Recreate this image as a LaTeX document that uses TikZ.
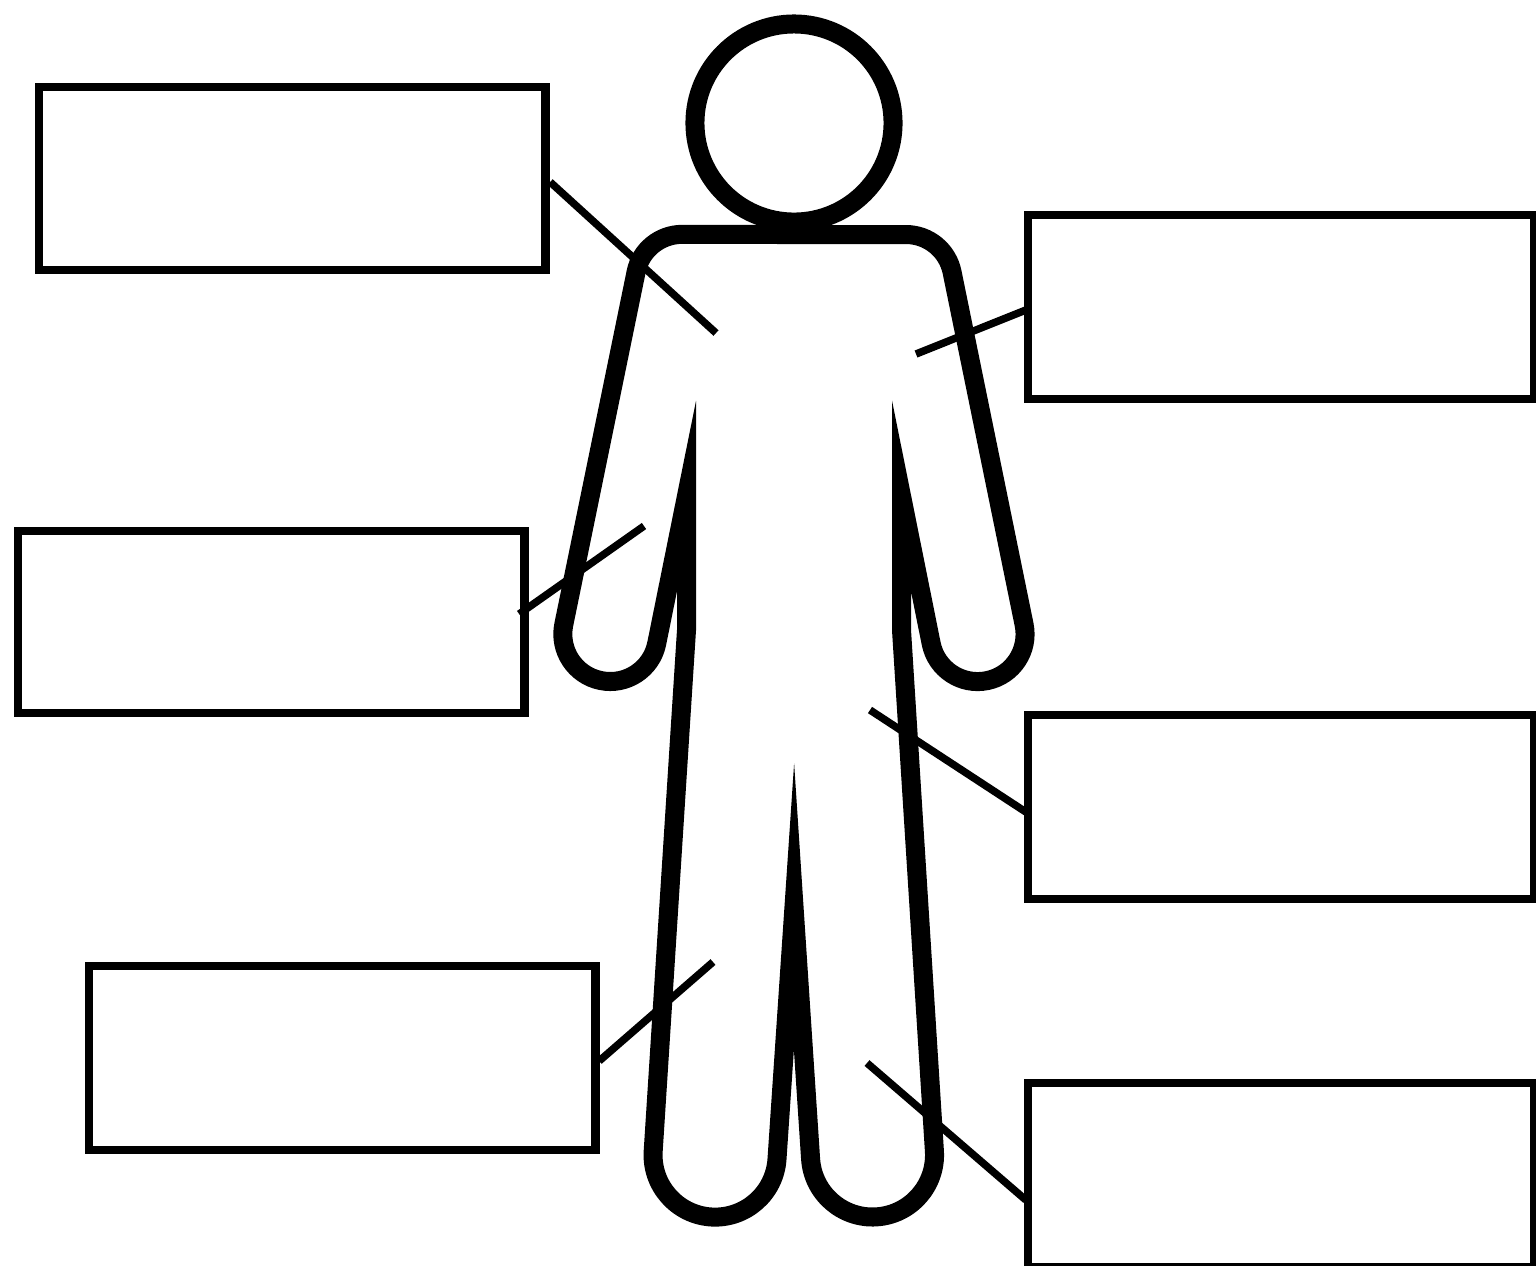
\documentclass[tikz,border=0pt]{standalone}
\tikzset{
  labelbox/.style={draw=black,fill=white,line width=0.087cm,rectangle,inner sep=0pt,outer sep=0pt,minimum width=5.06cm},
  figure/.style={draw=black,fill=white,line width=0.19cm,line join=miter,miter limit=20},
  leader/.style={draw=black,line width=0.075cm,line cap=butt}
}
\begin{document}
\begin{tikzpicture}[x=0.01cm,y=-0.01cm]
\useasboundingbox (0,0) rectangle (1536,1265);
% person
\path[figure] (794,234.5) -- (906,234.5)
  arc[start angle=90,end angle=11.6,radius=0.47cm]
  -- (1024.1,624.6)
  arc[start angle=11.6,end angle=-168.4,radius=0.474cm]
  -- (901.5,496) -- (901.5,630) -- (934.4,1151)
  arc[start angle=3.65,end angle=-176.35,radius=0.62cm]
  -- (794,906.5) -- (777,1159)
  arc[start angle=-3.65,end angle=-183.65,radius=0.62cm]
  -- (686.5,630) -- (686.5,496) -- (656.7,643.6)
  arc[start angle=-11.6,end angle=-191.6,radius=0.474cm]
  -- (636.1,271.9)
  arc[start angle=168.4,end angle=90,radius=0.47cm]
  -- cycle;
\node[draw=black,fill=white,line width=0.19cm,circle,inner sep=0pt,outer sep=0pt,minimum size=1.98cm] (head) at (794,123) {};
% boxes
\node[labelbox,minimum height=1.83cm] (b1) at (292,178.5) {};
\node[labelbox,minimum height=1.84cm] (b2) at (1281,307) {};
\node[labelbox,minimum height=1.82cm] (b3) at (271,622) {};
\node[labelbox,minimum height=1.84cm] (b4) at (342,1058) {};
\node[labelbox,minimum height=1.84cm] (b5) at (1281,807) {};
\node[labelbox,minimum height=1.84cm] (b6) at (1281,1175) {};
% free ends
\coordinate (e1) at (716,333);
\coordinate (e2) at (916,354);
\coordinate (e3) at (644,526);
\coordinate (e4) at (713,962);
\coordinate (e5) at (870,710);
\coordinate (e6) at (867,1063);
% leaders
\draw[leader] ([shift={(5,3.5)}]b1.east) -- (e1);
\draw[leader] ([shift={(-2,3)}]b2.west) -- (e2);
\draw[leader] ([shift={(-5,-8)}]b3.east) -- (e3);
\draw[leader] ([shift={(4,3)}]b4.east) -- (e4);
\draw[leader] ([shift={(-2,5)}]b5.west) -- (e5);
\draw[leader] ([shift={(-2,25)}]b6.west) -- (e6);
\end{tikzpicture}
\end{document}
